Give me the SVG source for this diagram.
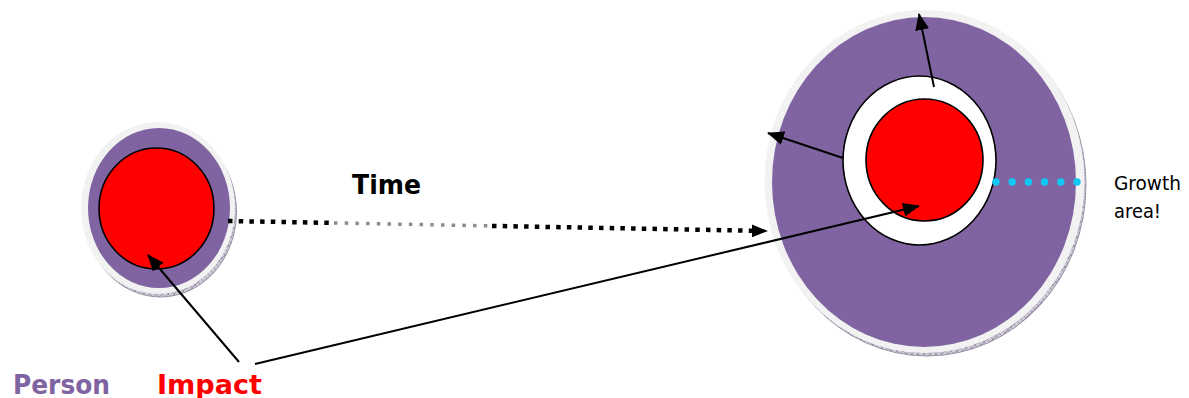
<svg xmlns="http://www.w3.org/2000/svg" width="1189" height="398" viewBox="0 0 1189 398">
<style>
.ring{fill:#F2F2F2}
.person{fill:#8064A2}
.impact{fill:#FF0000;stroke:#000;stroke-width:1.6}
.growth{fill:#FFFFFF;stroke:#000;stroke-width:1.6}
.shadow{fill:url(#hatch);stroke:#8a8298;stroke-width:0.8}
.arrow{stroke:#000;stroke-width:2;fill:none}
.dot{fill:#0FC8F5}
.lbl{font-family:"DejaVu Sans","Liberation Sans",Arial,sans-serif}
</style>
<defs>
<pattern id="hatch" width="6" height="6" patternUnits="userSpaceOnUse">
<rect width="6" height="6" fill="#CFCAD6"/>
<path d="M0 0L6 6M6 0L0 6" stroke="#7E7690" stroke-width="0.6"/>
</pattern>
<marker id="ahb" markerWidth="17" markerHeight="14" refX="16" refY="7" orient="auto" markerUnits="userSpaceOnUse">
<path d="M0 0L17 7L0 14Z" fill="#000"/>
</marker>
</defs>

<g id="small-person">
<ellipse class="shadow" cx="160.5" cy="212" rx="76" ry="85"/>
<ellipse class="ring" cx="158" cy="208" rx="77" ry="86"/>
<ellipse class="person" cx="159" cy="208" rx="71" ry="80"/>
<ellipse class="impact" cx="156.5" cy="208.5" rx="57.5" ry="60.5"/>
</g>

<g id="large-person">
<ellipse class="shadow" cx="927" cy="185" rx="159" ry="171"/>
<ellipse class="ring" cx="924.5" cy="181.5" rx="160" ry="171.5"/>
<ellipse class="person" cx="924" cy="182" rx="152" ry="165"/>
<ellipse class="growth" cx="919.5" cy="160.5" rx="76.5" ry="84.5"/>
<ellipse class="impact" cx="924.5" cy="160" rx="58.5" ry="61"/>
</g>

<g id="growth-dots">
<circle class="dot" cx="996" cy="182" r="3.7"/>
<circle class="dot" cx="1012.2" cy="182" r="3.7"/>
<circle class="dot" cx="1028.4" cy="182" r="3.7"/>
<circle class="dot" cx="1044.6" cy="182" r="3.7"/>
<circle class="dot" cx="1060.8" cy="182" r="3.7"/>
<circle class="dot" cx="1077" cy="182" r="3.7"/>
</g>

<g id="connectors">
<line x1="228" y1="221" x2="332" y2="222.9" stroke="#000" stroke-width="4.5" stroke-dasharray="4.5 6.2"/>
<line x1="334" y1="222.9" x2="490" y2="225.9" stroke="#8C8C8C" stroke-width="3.5" stroke-dasharray="3.5 7.2"/>
<line x1="492" y1="225.9" x2="752" y2="230.7" stroke="#000" stroke-width="4.5" stroke-dasharray="4.5 6.2"/>
<path d="M752 224.5L768 231L752 237.3Z" fill="#000"/>
<line class="arrow" x1="239" y1="362" x2="148" y2="255" marker-end="url(#ahb)"/>
<line class="arrow" x1="255" y1="364" x2="919" y2="206" marker-end="url(#ahb)"/>
<line class="arrow" x1="934" y1="87" x2="919" y2="14" marker-end="url(#ahb)"/>
<line class="arrow" x1="843" y1="158" x2="768" y2="133" marker-end="url(#ahb)"/>
</g>

<g id="labels">
<text class="lbl" x="352" y="194" font-size="27" font-weight="bold" fill="#000" textLength="69" lengthAdjust="spacingAndGlyphs">Time</text>
<text class="lbl" x="1114" y="190" font-size="20" fill="#000" textLength="67" lengthAdjust="spacingAndGlyphs">Growth</text>
<text class="lbl" x="1114" y="218" font-size="20" fill="#000" textLength="47" lengthAdjust="spacingAndGlyphs">area!</text>
<text class="lbl" x="13" y="394" font-size="26" font-weight="bold" fill="#8064A2" textLength="97" lengthAdjust="spacingAndGlyphs">Person</text>
<text class="lbl" x="157" y="394" font-size="26" font-weight="bold" fill="#FF0000" textLength="105" lengthAdjust="spacingAndGlyphs">Impact</text>
</g>
</svg>
